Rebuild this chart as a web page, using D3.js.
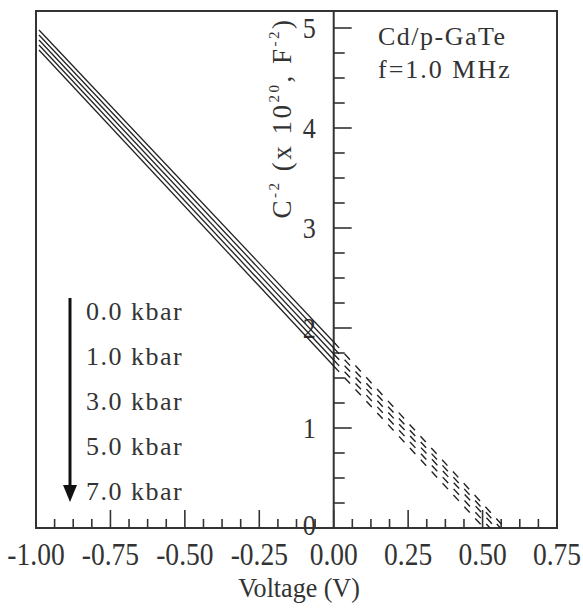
<!DOCTYPE html>
<html>
<head>
<meta charset="utf-8">
<script src="https://cdn.jsdelivr.net/npm/d3@7"></script>
<style>
  body { margin: 0; background: #fff; }
  text { font-family: "Liberation Serif", "Times New Roman", serif; fill: #333; }
</style>
</head>
<body>
<div id="graph"></div>
<script>
// pressure series, top line first
var pressures = ["0.0 kbar", "1.0 kbar", "3.0 kbar", "5.0 kbar", "7.0 kbar"];
// C^-2 (x10^20 F^-2) read at V = -0.99, V = 0 and the voltage intercept
var startV = -0.99;
var cStart = [4.98, 4.93, 4.88, 4.83, 4.78];
var cZero = [1.86, 1.80, 1.74, 1.68, 1.62];
var vIntercept = [0.575, 0.56, 0.545, 0.525, 0.505];

var xTicks = [-1.00, -0.75, -0.50, -0.25, 0.00, 0.25, 0.50, 0.75];
var yTicks = [0, 1, 2, 3, 4, 5];

// set the dimensions of the graph
var width = 583, height = 611;
var box = {left: 36, right: 557, top: 11, bottom: 528};

var x = d3.scaleLinear().domain([-1, 0.75]).range([box.left, box.right]);
var y = d3.scaleLinear().domain([0, 5.17]).range([box.bottom, box.top]);

var svg = d3.select("#graph").append("svg")
  .attr("width", width)
  .attr("height", height);

// frame
svg.append("rect")
  .attr("x", box.left).attr("y", box.top)
  .attr("width", box.right - box.left).attr("height", box.bottom - box.top)
  .attr("fill", "none").attr("stroke", "#333").attr("stroke-width", 2);

// x axis ticks (inside, pointing up)
var xMinor = d3.range(-1, 0.75 + 1e-9, 0.0625);
svg.append("g").selectAll("line")
  .data(xMinor)
  .enter().append("line")
  .attr("x1", function(d) { return x(d); })
  .attr("x2", function(d) { return x(d); })
  .attr("y1", box.bottom)
  .attr("y2", function(d) { return box.bottom - (Math.abs(d * 4 - Math.round(d * 4)) < 1e-6 ? 18 : 9); })
  .attr("stroke", "#333").attr("stroke-width", 1.6);

// tall narrow tick labels like the scan
svg.append("g").selectAll("text")
  .data(xTicks)
  .enter().append("text")
  .attr("transform", function(d) { return "translate(" + x(d) + ",565) scale(0.86,1)"; })
  .attr("text-anchor", "middle")
  .attr("font-size", 32)
  .text(function(d) { return d3.format(".2f")(d).replace("−", "-"); });

// y axis sits at V = 0
var x0 = x(0);
svg.append("line")
  .attr("x1", x0).attr("x2", x0)
  .attr("y1", box.top).attr("y2", box.bottom)
  .attr("stroke", "#333").attr("stroke-width", 2);

var yMinor = d3.range(0.25, 5.17, 0.25);
svg.append("g").selectAll("line")
  .data(yMinor)
  .enter().append("line")
  .attr("x1", x0)
  .attr("x2", function(d) { return x0 + (Math.abs(d - Math.round(d)) < 1e-6 ? 18 : 11); })
  .attr("y1", function(d) { return y(d); })
  .attr("y2", function(d) { return y(d); })
  .attr("stroke", "#333").attr("stroke-width", 1.6);

svg.append("g").selectAll("text")
  .data(yTicks)
  .enter().append("text")
  .attr("transform", function(d) { return "translate(" + (x0 - 18) + "," + (y(d) + (d === 0 ? 7 : 10)) + ") scale(0.9,1)"; })
  .attr("text-anchor", "end")
  .attr("font-size", 29)
  .text(function(d) { return d; });

// the lines
var line = d3.line()
  .x(function(d) { return x(d[0]); })
  .y(function(d) { return y(d[1]); });

pressures.forEach(function(p, i) {
  svg.append("path")
    .datum([[startV, cStart[i]], [0, cZero[i]]])
    .attr("d", line)
    .attr("fill", "none").attr("stroke", "#222").attr("stroke-width", 1.3);
  svg.append("path")
    .datum([[0, cZero[i]], [vIntercept[i], 0]])
    .attr("d", line)
    .attr("fill", "none").attr("stroke", "#222").attr("stroke-width", 1.4)
    .attr("stroke-dasharray", "8,8");
});

// legend with arrow
svg.append("line")
  .attr("x1", 70).attr("x2", 70)
  .attr("y1", 298).attr("y2", 488)
  .attr("stroke", "#111").attr("stroke-width", 3);
svg.append("path")
  .attr("d", "M63,485 L77,485 L70,502 Z")
  .attr("fill", "#111");

svg.append("g").selectAll("text")
  .data(pressures)
  .enter().append("text")
  .attr("x", 86)
  .attr("y", function(d, i) { return 320 + i * 45; })
  .attr("font-size", 26)
  .attr("letter-spacing", 1.5)
  .text(function(d) { return d; });

// annotation
svg.append("text").attr("x", 378).attr("y", 45)
  .attr("font-size", 26).attr("letter-spacing", 1.5).text("Cd/p-GaTe");
svg.append("text").attr("x", 378).attr("y", 78)
  .attr("font-size", 26).attr("letter-spacing", 2).text("f=1.0 MHz");

// axis titles
svg.append("text")
  .attr("transform", "translate(299,597) scale(0.93,1)")
  .attr("text-anchor", "middle")
  .attr("font-size", 28)
  .text("Voltage (V)");

var yt = svg.append("text")
  .attr("transform", "translate(291,118) rotate(-90)")
  .attr("text-anchor", "middle")
  .attr("font-size", 27).attr("letter-spacing", 2.5);
yt.append("tspan").text("C");
yt.append("tspan").attr("font-size", 15).attr("dy", -12).text("-2");
yt.append("tspan").attr("dy", 12).text(" (x 10");
yt.append("tspan").attr("font-size", 15).attr("dy", -12).text("20");
yt.append("tspan").attr("dy", 12).text(", F");
yt.append("tspan").attr("font-size", 15).attr("dy", -12).text("-2");
yt.append("tspan").attr("dy", 12).text(")");
</script>
</body>
</html>
